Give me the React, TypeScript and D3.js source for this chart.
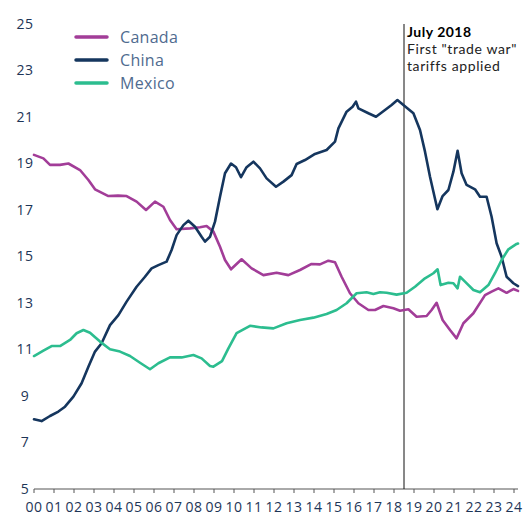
import React from "react";
import * as d3 from "d3";

// decimal year, share of US imports (%)
const canada: [number, number][] = [
  [2000.0, 19.37], [2000.47, 19.22], [2000.8, 18.94], [2001.3, 18.94], [2001.72, 19.0],
  [2002.3, 18.72], [2002.72, 18.29], [2003.05, 17.89], [2003.72, 17.6], [2004.2, 17.62],
  [2004.63, 17.6], [2005.13, 17.36], [2005.6, 17.0], [2006.05, 17.36], [2006.47, 17.14],
  [2006.8, 16.57], [2007.13, 16.17], [2007.8, 16.21], [2008.3, 16.26], [2008.63, 16.31],
  [2008.97, 16.07], [2009.3, 15.42], [2009.55, 14.85], [2009.85, 14.45], [2010.38, 14.88],
  [2010.88, 14.49], [2011.47, 14.2], [2012.13, 14.3], [2012.72, 14.2], [2013.3, 14.42],
  [2013.88, 14.68], [2014.3, 14.66], [2014.72, 14.82], [2015.05, 14.75], [2015.38, 14.13],
  [2015.8, 13.42], [2016.22, 12.99], [2016.72, 12.7], [2017.05, 12.7], [2017.47, 12.87],
  [2017.97, 12.77], [2018.3, 12.67], [2018.72, 12.73], [2019.13, 12.41], [2019.63, 12.44],
  [2019.88, 12.7], [2020.13, 13.01], [2020.43, 12.27], [2020.8, 11.84], [2021.13, 11.48],
  [2021.47, 12.13], [2021.97, 12.56], [2022.55, 13.34], [2022.88, 13.49], [2023.22, 13.63],
  [2023.63, 13.44], [2023.97, 13.6], [2024.2, 13.52],
];

const china: [number, number][] = [
  [2000.0, 8.0], [2000.38, 7.92], [2000.8, 8.14], [2001.22, 8.33], [2001.55, 8.54],
  [2001.97, 8.97], [2002.38, 9.55], [2002.72, 10.26], [2003.05, 10.91], [2003.38, 11.27],
  [2003.8, 12.05], [2004.22, 12.48], [2004.63, 13.06], [2005.13, 13.7], [2005.55, 14.13],
  [2005.88, 14.49], [2006.22, 14.63], [2006.63, 14.78], [2006.88, 15.28], [2007.13, 15.92],
  [2007.47, 16.35], [2007.72, 16.54], [2008.05, 16.28], [2008.38, 15.85], [2008.55, 15.64],
  [2008.8, 15.85], [2009.05, 16.5], [2009.3, 17.57], [2009.55, 18.58], [2009.85, 19.0],
  [2010.1, 18.84], [2010.35, 18.41], [2010.63, 18.84], [2010.97, 19.08], [2011.3, 18.79],
  [2011.63, 18.36], [2012.1, 18.0], [2012.47, 18.22], [2012.88, 18.5], [2013.13, 18.98],
  [2013.55, 19.15], [2014.05, 19.41], [2014.63, 19.58], [2015.05, 19.94], [2015.22, 20.51],
  [2015.63, 21.23], [2015.93, 21.44], [2016.1, 21.66], [2016.22, 21.37], [2016.72, 21.16],
  [2017.1, 21.01], [2017.55, 21.3], [2017.88, 21.52], [2018.17, 21.73], [2018.47, 21.52],
  [2018.97, 21.16], [2019.3, 20.44], [2019.55, 19.51], [2019.8, 18.43], [2020.17, 17.03],
  [2020.43, 17.6], [2020.72, 17.86], [2020.97, 18.65], [2021.18, 19.55], [2021.38, 18.58],
  [2021.63, 18.08], [2022.05, 17.89], [2022.3, 17.57], [2022.63, 17.57], [2022.88, 16.71],
  [2023.13, 15.57], [2023.38, 14.99], [2023.63, 14.13], [2023.97, 13.85], [2024.2, 13.73],
];

const mexico: [number, number][] = [
  [2000.0, 10.72], [2000.47, 10.95], [2000.88, 11.15], [2001.3, 11.15], [2001.8, 11.41],
  [2002.13, 11.7], [2002.47, 11.84], [2002.8, 11.72], [2003.3, 11.34], [2003.8, 11.01],
  [2004.3, 10.91], [2004.8, 10.72], [2005.3, 10.43], [2005.8, 10.15], [2006.22, 10.41],
  [2006.8, 10.66], [2007.38, 10.66], [2007.97, 10.76], [2008.38, 10.62], [2008.8, 10.29],
  [2008.97, 10.26], [2009.4, 10.5], [2009.72, 11.05], [2010.13, 11.7], [2010.8, 12.02],
  [2011.38, 11.95], [2011.97, 11.91], [2012.63, 12.13], [2013.3, 12.27], [2013.97, 12.37],
  [2014.63, 12.53], [2015.13, 12.7], [2015.63, 12.99], [2016.13, 13.42], [2016.63, 13.46],
  [2016.97, 13.39], [2017.3, 13.46], [2017.63, 13.44], [2018.13, 13.36], [2018.63, 13.44],
  [2019.05, 13.7], [2019.55, 14.06], [2019.97, 14.28], [2020.18, 14.45], [2020.33, 13.77],
  [2020.72, 13.87], [2020.97, 13.85], [2021.18, 13.63], [2021.3, 14.13], [2021.55, 13.92],
  [2021.97, 13.56], [2022.3, 13.46], [2022.72, 13.77], [2023.05, 14.28], [2023.38, 14.85],
  [2023.72, 15.31], [2024.13, 15.54], [2024.2, 15.56],
];

const seriesNames = ["Canada", "China", "Mexico"];
const seriesColors = ["#a23d98", "#15365e", "#2cbd8f"];
const seriesData = [canada, china, mexico];

const yTicks = [5, 7, 9, 11, 13, 15, 17, 19, 21, 23, 25];
const xYears = d3.range(2000, 2025);
const markerYear = 2018.5;
const noteLines = ["July 2018", 'First "trade war"', "tariffs applied"];

const W = 526;
const H = 518;
const FONT = "'Open Sans', 'DejaVu Sans', sans-serif";

export default function App() {
  const x = d3.scaleLinear().domain([2000, 2024.2]).range([34, 518]);
  const y = d3.scaleLinear().domain([5, 25]).range([489, 24]);
  const line = d3
    .line<[number, number]>()
    .x((d) => x(d[0]))
    .y((d) => y(d[1]));

  return (
    <svg
      width={W}
      height={H}
      style={{ position: "absolute", left: 0, top: 0, background: "#fff" }}
      fontFamily={FONT}
    >
      {/* y labels */}
      {yTicks.map((t) => (
        <text
          key={t}
          x={25}
          y={y(t)}
          dy="0.35em"
          textAnchor="middle"
          fontSize={14}
          letterSpacing={0.5}
          fill="#1d3557"
        >
          {t}
        </text>
      ))}

      {/* x axis */}
      <line x1={34} x2={518} y1={489} y2={489} stroke="#555" strokeWidth={1} />
      {xYears.map((yr) => (
        <g key={yr}>
          <line x1={x(yr)} x2={x(yr)} y1={489} y2={493} stroke="#555" strokeWidth={1} />
          <text
            x={x(yr)}
            y={512}
            textAnchor="middle"
            fontSize={14}
            letterSpacing={0.4}
            fill="#1d3557"
          >
            {String(yr % 100).padStart(2, "0")}
          </text>
        </g>
      ))}

      {/* marker + note */}
      <line
        x1={x(markerYear)}
        x2={x(markerYear)}
        y1={24}
        y2={489}
        stroke="#111"
        strokeWidth={1}
      />
      {noteLines.map((s, i) => (
        <text
          key={s}
          x={x(markerYear) + 3}
          y={37 + i * 17}
          fontFamily="Lato, 'Open Sans', sans-serif"
          fontSize={14}
          letterSpacing={i === 0 ? 0.5 : 0.6}
          fontWeight={i === 0 ? 700 : 400}
          fill={i === 0 ? "#000" : "#222"}
        >
          {s}
        </text>
      ))}

      {/* series */}
      {seriesData.map((d, i) => (
        <path
          key={seriesNames[i]}
          d={line(d) ?? ""}
          fill="none"
          stroke={seriesColors[i]}
          strokeWidth={2.6}
          strokeLinejoin="round"
          strokeLinecap="round"
        />
      ))}

      {/* legend */}
      {seriesNames.map((name, i) => (
        <g key={name} transform={`translate(76, ${37 + i * 23})`}>
          <line x1={0} x2={31} y1={0} y2={0} stroke={seriesColors[i]} strokeWidth={3.5} strokeLinecap="round" />
          <text x={44} y={0} dy="0.36em" fontSize={16} letterSpacing={0.3} fill="#4f6b8f">
            {name}
          </text>
        </g>
      ))}
    </svg>
  );
}
